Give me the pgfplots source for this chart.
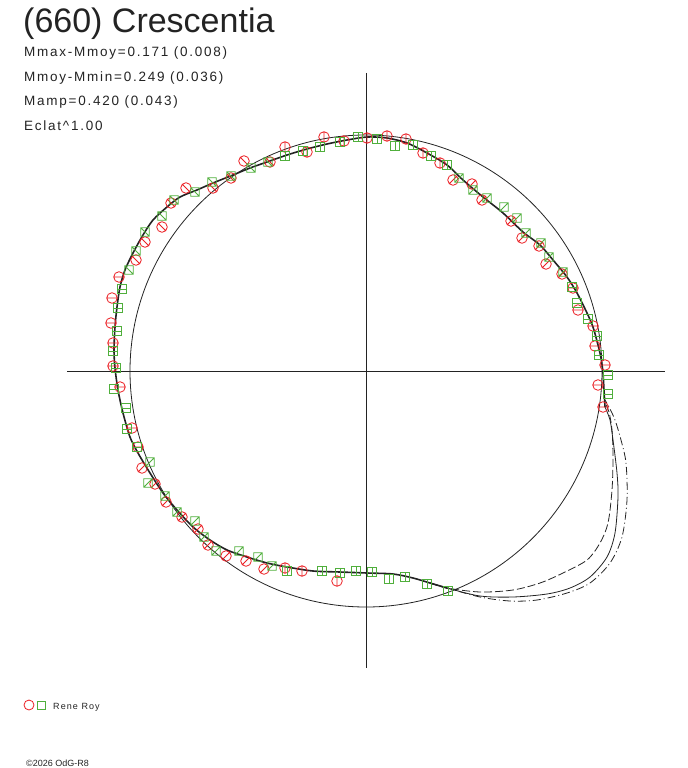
\documentclass[border=0pt]{standalone}
\usepackage{pgfplots}
\pgfplotsset{compat=1.18}
\usepackage{fontspec}
\setmainfont{Liberation Sans}
\newfontfamily\subfont[LetterSpace=13]{Liberation Sans}
\newfontfamily\legfont[LetterSpace=12]{Liberation Sans}
\definecolor{ptred}{RGB}{235,30,35}
\definecolor{ptgreen}{RGB}{80,175,60}
\definecolor{ink}{RGB}{35,35,35}
% circle marks with a radial error bar
\def\defoc#1{\pgfdeclareplotmark{oc#1}{%
  \pgfpathcircle{\pgfpointorigin}{\pgfplotmarksize}%
  \pgfpathmoveto{\pgfpointpolar{#1+180}{\pgfplotmarksize}}%
  \pgfpathlineto{\pgfpointpolar{#1}{\pgfplotmarksize}}%
  \pgfusepathqstroke}}
\defoc{0}\defoc{45}\defoc{90}\defoc{135}
% square marks with an error bar
\def\defsq#1#2{\pgfdeclareplotmark{sq#1}{%
  \pgfpathrectanglecorners{\pgfqpoint{-\pgfplotmarksize}{-\pgfplotmarksize}}{\pgfqpoint{\pgfplotmarksize}{\pgfplotmarksize}}%
  \pgfpathmoveto{\pgfpointpolar{#1+180}{#2\pgfplotmarksize}}%
  \pgfpathlineto{\pgfpointpolar{#1}{#2\pgfplotmarksize}}%
  \pgfusepathqstroke}}
\defsq{0}{1}\defsq{45}{1.414}\defsq{90}{1}\defsq{135}{1.414}
\pgfplotsset{
  rc/.style={only marks, mark size=5.3bp, ptred, mark options={line width=0.8bp}},
  gs/.style={only marks, mark size=4.2bp, ptgreen, mark options={line width=0.8bp}},
}
\begin{document}
\begin{tikzpicture}
\begin{axis}[
  scale only axis, width=688bp, height=768bp,
  xmin=0, xmax=688, ymin=0, ymax=768, y dir=reverse,
  axis line style={draw=none}, xtick=\empty, ytick=\empty,
  clip=false,
]
% axes cross
\addplot[ink, line width=0.9bp] coordinates {(67,371) (665,371)};
\addplot[ink, line width=0.9bp] coordinates {(366,73) (366,668)};
% reference circle
\draw[ink, line width=0.8bp] (axis cs:366,371) circle [radius=236bp];
% common part of fit curves
\addplot[ink, line width=1.6bp, smooth, tension=0.5] coordinates {
(605,407) (604,390) (603,373) (601,358) (598,345) (593,327) (587,313) (577,293)
(567,277) (553,260) (540,245) (523,232) (503,213) (483,197) (463,180) (447,165)
(427,153) (407,143) (387,138) (367,137) (347,140) (327,144) (307,149) (287,155)
(267,162) (250,168) (233,175) (213,183) (197,190) (180,197) (167,207) (153,220)
(143,235) (133,253) (125,270) (120,287) (117,307) (115,327) (114,350) (115,368)
(118,390) (123,413) (130,437) (138,453) (150,473) (163,493) (177,510) (193,527)
(210,540) (227,550) (247,557) (267,563) (287,567) (313,571) (340,572) (367,573)
(393,574) (413,578) (430,583) (447,588)};
% loops
\addplot[ink, line width=0.8bp, smooth, tension=0.5] coordinates {
(430,583) (447,588) (480,596) (513,597) (547,594) (570,588) (590,577) (607,557)
(615,533) (618,497) (617,473) (613,440) (610,420) (605,407)};
\addplot[ink, line width=0.8bp, smooth, tension=0.5, dash pattern=on 8bp off 3bp] coordinates {
(430,583) (447,588) (480,592) (513,590) (540,583) (563,573) (587,560) (600,543)
(608,523) (612,490) (613,457) (612,430) (609,412) (605,403)};
\addplot[ink, line width=0.8bp, smooth, tension=0.5, dash pattern=on 8bp off 3bp on 1bp off 3bp] coordinates {
(430,583) (447,588) (480,597) (510,601) (537,600) (567,593) (590,583) (610,563)
(622,537) (627,500) (626,463) (621,440) (615,420) (609,407) (605,400)};
% red circles, grouped by the direction of their error bar
\addplot[rc, mark=oc90] coordinates {
(324,137) (344,141) (367,138) (307,152) (285,147) (387,136) (406,139) (423,153)
(440,163) (285,568) (302,571) (337,581)};
\addplot[rc, mark=oc135] coordinates {
(270,162) (244,161) (231,178) (213,188) (186,188) (171,203) (162,227) (145,242)
(136,260)};
\addplot[rc, mark=oc45] coordinates {
(453,180) (472,184) (482,200) (511,221) (522,238) (539,246) (546,264) (562,274)
(142,468) (155,484) (166,502) (182,517) (198,529) (208,545) (226,556) (246,561)
(264,569)};
\addplot[rc, mark=oc0] coordinates {
(119,277) (112,298) (111,323) (113,343) (113,366) (573,288) (578,310) (593,326)
(595,346) (605,365) (598,385) (603,407) (120,387) (132,428) (138,447)};
% green squares, grouped the same way
\addplot[gs, mark=sq90] coordinates {
(358,137) (377,139) (340,142) (320,147) (303,151) (285,156) (395,146) (413,145)
(431,156) (447,165) (287,571) (322,571) (340,573) (356,571) (372,572) (389,579)
(405,577) (427,584) (448,591)};
\addplot[gs, mark=sq135] coordinates {
(268,162) (251,168) (231,176) (212,182) (195,192) (174,200) (162,216) (145,232)
(136,251) (129,270)};
\addplot[gs, mark=sq45] coordinates {
(459,178) (473,190) (487,198) (504,207) (517,218) (526,233) (541,243) (549,257)
(563,272) (150,462) (148,483) (165,496) (177,512) (195,521) (204,537) (216,551)
(239,551) (258,557) (272,566)};
\addplot[gs, mark=sq0] coordinates {
(122,289) (118,308) (117,331) (113,351) (116,368) (572,287) (577,303) (588,319)
(597,336) (599,355) (608,375) (608,394) (114,389) (126,408) (127,429) (137,447)};
% legend markers
\addplot[only marks, mark=o, mark size=5bp, ptred, mark options={line width=0.8bp}] coordinates {(29,705)};
\addplot[only marks, mark=square, mark size=4bp, ptgreen, mark options={line width=0.8bp}] coordinates {(41,705.5)};
% texts
\node[anchor=base west, inner sep=0pt, text=ink, font=\fontsize{34bp}{36bp}\selectfont] at (axis cs:23,33) {(660) Crescentia};
\node[anchor=base west, inner sep=0pt, text=ink, font=\subfont\fontsize{13.5bp}{15bp}\selectfont] at (axis cs:24,57) {Mmax-Mmoy=0.171 (0.008)};
\node[anchor=base west, inner sep=0pt, text=ink, font=\subfont\fontsize{13.5bp}{15bp}\selectfont] at (axis cs:24,81.5) {Mmoy-Mmin=0.249 (0.036)};
\node[anchor=base west, inner sep=0pt, text=ink, font=\subfont\fontsize{13.5bp}{15bp}\selectfont] at (axis cs:24,106) {Mamp=0.420 (0.043)};
\node[anchor=base west, inner sep=0pt, text=ink, font=\subfont\fontsize{13.5bp}{15bp}\selectfont] at (axis cs:24,130.5) {Eclat\^{}1.00};
\node[anchor=base west, inner sep=0pt, text=ink, font=\legfont\fontsize{9bp}{10bp}\selectfont] at (axis cs:53,709) {Rene Roy};
\node[anchor=base west, inner sep=0pt, text=ink, font=\fontsize{9bp}{10bp}\selectfont] at (axis cs:26,766) {\textcopyright 2026 OdG-R8};
\end{axis}
\end{tikzpicture}
\end{document}
